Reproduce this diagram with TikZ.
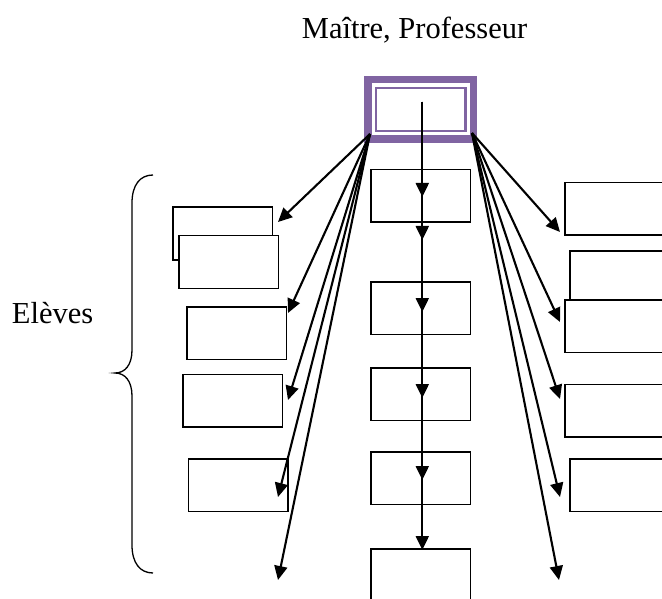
\documentclass[tikz,border=0pt]{standalone}
\usepackage{fontspec}
\setmainfont{Liberation Serif}
\usetikzlibrary{arrows.meta}
\definecolor{profpurple}{HTML}{8064A2}
\begin{document}
\begin{tikzpicture}[x=1pt,y=-1pt,
  box/.style={draw, line width=1.5pt, fill=white, minimum width=99.5pt, minimum height=52.5pt, inner sep=0pt, outer sep=0pt},
  arr/.style={line width=2.1pt, -{Triangle[length=14pt,width=13pt]}},
  lbl/.style={font=\fontsize{30.5}{36}\selectfont, inner sep=0pt, anchor=base west},
  brace/.style={line width=1.3pt}]
\useasboundingbox (0,0) rectangle (662,599);
\clip (0,0) rectangle (662,599);

% labels
\node[lbl] (title) at (301.7,38.3) {Maître, Professeur};
\node[lbl] (eleves) at (11.7,323.3) {Elèves};

% brace
\draw[brace] (153,175) .. controls (140,175) and (132,185) .. (132,203)
  -- (132,350) .. controls (132,365) and (125,373) .. (115,373)
  .. controls (125,373) and (132,381) .. (132,396)
  -- (132,545) .. controls (132,563) and (140,573) .. (153,573);

% central column
\node[box] (c1) at (420.5,196) {};
\node[box] (c2) at (420.5,308) {};
\node[box] (c3) at (420.5,394) {};
\node[box] (c4) at (420.5,478) {};
\node[box] (c5) at (420.5,575) {};

% left column
\node[box] (l1) at (222.5,233.5) {};
\node[box] (l2) at (228.5,262) {};
\node[box] (l3) at (236.5,333) {};
\node[box] (l4) at (232.5,400.5) {};
\node[box] (l5) at (238,485) {};

% right column
\node[box] (r1) at (614.5,209) {};
\node[box] (r2) at (619.5,277) {};
\node[box] (r3) at (614.5,326) {};
\node[box] (r4) at (614.5,410.5) {};
\node[box] (r5) at (619.5,485) {};

% teacher box
\node[draw=profpurple, line width=7.7pt, fill=white, minimum width=105.6pt, minimum height=59.3pt, inner sep=0pt] (prof) at (420.65,109.2) {};
\node[draw=profpurple, line width=2.3pt, minimum width=89.35pt, minimum height=43.15pt, inner sep=0pt] (profin) at (420.8,109.6) {};

% connector ends
\coordinate (ls) at (370,134);
\coordinate (rs) at (472,133);
\coordinate (cs) at (422.3,102);
\coordinate (tl1) at (278,222);
\coordinate (tl2) at (288,313);
\coordinate (tl3) at (288,400);
\coordinate (tl4) at (278,497);
\coordinate (tl5) at (278,580);
\coordinate (tr1) at (560,232);
\coordinate (tr2) at (560,322);
\coordinate (tr3) at (560,399);
\coordinate (tr4) at (560,497);
\coordinate (tr5) at (559,580);
\coordinate (tc1) at (422.3,197);
\coordinate (tc2) at (422.3,240);
\coordinate (tc3) at (422.3,312);
\coordinate (tc4) at (422.3,398);
\coordinate (tc5) at (422.3,480);
\coordinate (tc6) at (422.3,550);

% arrows
\foreach \t in {tl1,tl2,tl3,tl4,tl5} \draw[arr] (ls) -- (\t);
\foreach \t in {tr1,tr2,tr3,tr4,tr5} \draw[arr] (rs) -- (\t);
\foreach \t in {tc6,tc5,tc4,tc3,tc2,tc1} \draw[arr] (cs) -- (\t);
\end{tikzpicture}
\end{document}
